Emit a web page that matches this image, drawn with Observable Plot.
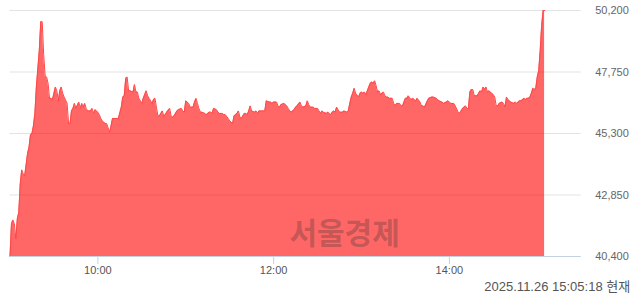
<!DOCTYPE html>
<html><head><meta charset="utf-8">
<script src="https://cdn.jsdelivr.net/npm/d3@7"></script>
<script src="https://cdn.jsdelivr.net/npm/@observablehq/plot@0.6"></script>
<style>
html,body{margin:0;padding:0;background:#fff;}
#chart{width:640px;height:294px;}
</style></head><body><div id="chart"></div>
<script>
const times = [
"09:00","09:01","09:02","09:03","09:04","09:05","09:06","09:07","09:08","09:09","09:10","09:12","09:13","09:14","09:15","09:16","09:17","09:18","09:20","09:21","09:22","09:23","09:24","09:25","09:26","09:27","09:28","09:29","09:31","09:32","09:33","09:34","09:35","09:36","09:37","09:39","09:40","09:41","09:42","09:43","09:44","09:45","09:47","09:48","09:49","09:50","09:51","09:52","09:53","09:55","09:56","09:57","09:58",
"10:00","10:01","10:02","10:03","10:05","10:06","10:08","10:09","10:10","10:12","10:14","10:16","10:17","10:18","10:19","10:20","10:21","10:22","10:24","10:25","10:26","10:27","10:28","10:30","10:31","10:33","10:34","10:35","10:37","10:38","10:39","10:40","10:41","10:42","10:44","10:45","10:46","10:47","10:49","10:50","10:51","10:52","10:54","10:55","10:57","10:58","10:59",
"11:00","11:02","11:03","11:05","11:06","11:07","11:08","11:09","11:10","11:11","11:13","11:14","11:16","11:17","11:18","11:19","11:21","11:22","11:23","11:25","11:26","11:27","11:29","11:30","11:32","11:33","11:34","11:35","11:36","11:37","11:38","11:40","11:41","11:42","11:43","11:44","11:45","11:47","11:48","11:49","11:50","11:51","11:52","11:54","11:55","11:57","11:58","11:59",
"12:00","12:02","12:03","12:04","12:05","12:07","12:09","12:10","12:11","12:12","12:14","12:15","12:16","12:18","12:19","12:20","12:22","12:23","12:24","12:25","12:27","12:28","12:30","12:31","12:32","12:33","12:34","12:36","12:37","12:38","12:39","12:40","12:41","12:42","12:43","12:45","12:46","12:47","12:48","12:50","12:51","12:52","12:53","12:54","12:55","12:56","12:58","12:59",
"13:00","13:01","13:02","13:03","13:04","13:06","13:07","13:08","13:09","13:10","13:11","13:12","13:13","13:15","13:16","13:17","13:18","13:19","13:21","13:22","13:23","13:24","13:26","13:27","13:28","13:29","13:30","13:31","13:32","13:33","13:34","13:35","13:36","13:37","13:38","13:40","13:41","13:42","13:43","13:45","13:46","13:48","13:49","13:51","13:52","13:53","13:55","13:56","13:58","13:59",
"14:00","14:01","14:03","14:04","14:06","14:07","14:08","14:09","14:11","14:12","14:13","14:14","14:15","14:16","14:17","14:19","14:20","14:21","14:22","14:23","14:24","14:25","14:26","14:27","14:29","14:30","14:31","14:32","14:33","14:34","14:36","14:37","14:38","14:39","14:40","14:41","14:42","14:44","14:45","14:46","14:47","14:48","14:49","14:51","14:52","14:53","14:54","14:55","14:56","14:57","14:58","14:59",
"15:00","15:01","15:02","15:03","15:04","15:05"
];
const prices = [
40400,41700,41850,41700,41100,41900,42150,43300,43850,43700,43600,44500,44750,45250,45300,45600,46100,47150,48600,49750,49750,48450,47600,47550,47300,46700,46700,46650,47150,47000,46600,47000,47150,46900,46750,46500,45700,45700,46200,46300,46500,46300,46550,46300,46500,46350,46500,46300,46200,46200,46300,46100,46250,
46150,46050,45900,45800,45700,45700,45350,45600,45900,45900,45900,46350,46750,46800,47500,47550,47000,47000,46950,47250,46950,46950,46700,46500,46700,47000,46800,46700,46500,46650,46700,46350,46000,46000,46200,46000,46050,46150,46300,46000,45950,46000,46200,46250,46300,46200,46150,
46600,46500,46350,46350,46550,46700,46500,46300,46150,46150,46100,46050,46150,46150,46100,46300,46250,46150,46100,46100,46050,46050,45900,45800,45700,46000,46050,46100,46200,45950,45900,46100,46100,46050,46200,46400,46200,46150,46200,46100,46200,46200,46200,46200,46600,46550,46550,46500,
46550,46550,46400,46350,46450,46500,46400,46300,46200,46150,46250,46350,46400,46550,46400,46350,46400,46600,46450,46350,46350,46300,46300,46200,46100,46200,46150,46100,46150,46100,46050,46150,46200,46150,46350,46150,46150,46150,46200,46150,46200,46500,46750,46900,47100,46900,46750,46900,
46950,46900,46950,46850,47000,47300,47350,47300,47400,47200,46950,47000,46850,46950,46800,46750,46750,46700,46700,46500,46400,46500,46500,46400,46400,46550,46700,46700,46800,46700,46650,46700,46650,46600,46700,46550,46400,46400,46350,46600,46700,46750,46750,46700,46650,46600,46550,46500,46550,46600,
46550,46500,46500,46400,46150,46100,46200,46300,46400,46300,46300,46950,47050,47050,46800,46800,46900,47000,46950,47150,47050,47150,46950,47000,46900,46850,46750,46400,46400,46500,46550,46500,46350,46750,46650,46600,46550,46500,46550,46500,46550,46600,46600,46700,46650,46700,46700,46750,46900,47100,47050,47100,
47550,47800,48600,49600,50200,50200
];
const yTicks = [40400, 42850, 45300, 47750, 50200];
const xTicks = ["10:00", "12:00", "14:00"];
const xDomain = ["09:00", "15:30"];
const caption = "2025.11.26 15:05:18 현재";
const watermark = "서울경제";

if (times.length !== prices.length) console.error("length mismatch", times.length, prices.length);

const parse = d3.timeParse("%H:%M");
const data = times.map((t, i) => ({t: parse(t), p: prices[i]}));
const font = "'Liberation Sans', Arial, 'Noto Sans CJK KR', sans-serif";
const axisColor = "#c5d0e2";

const chart = Plot.plot({
  width: 640, height: 294,
  marginTop: 10, marginBottom: 38, marginLeft: 9.5, marginRight: 59.3,
  style: {fontFamily: font, fontSize: "11px", color: "#555", background: "#fff"},
  x: {type: "time", domain: xDomain.map(parse), label: null},
  y: {domain: [yTicks[0], yTicks[yTicks.length - 1]], label: null},
  marks: [
    Plot.gridY(yTicks, {stroke: "#e3e3e3", strokeOpacity: 1}),
    Plot.areaY(data, {x: "t", y1: yTicks[0], y2: "p", fill: "#ff0000", fillOpacity: 0.6}),
    Plot.lineY(data, {x: "t", y: "p", stroke: "#ff4848", strokeWidth: 1}),
    Plot.text([watermark], {frameAnchor: "bottom", dx: 49, dy: -22, fontSize: 30, fontWeight: "bold", fill: "#333", fillOpacity: 0.3, fontFamily: "'Noto Sans CJK KR', sans-serif", lineAnchor: "middle"}),
    Plot.ruleY([yTicks[0]], {stroke: axisColor}),
    Plot.axisX(xTicks.map(parse), {tickSize: 8, tickPadding: 2, tickFormat: d3.timeFormat("%H:%M"), stroke: axisColor, fill: "#555", label: null}),
    Plot.axisY(yTicks, {anchor: "right", tickSize: 0, tickPadding: 14, tickFormat: d3.format(","), fill: "#666", label: null}),
    Plot.text([caption], {frameAnchor: "bottom-right", dx: 49, dy: 30, textAnchor: "end", fontSize: 13, fill: "#555", lineAnchor: "middle"})
  ]
});
document.getElementById("chart").appendChild(chart);
</script>
</body></html>
